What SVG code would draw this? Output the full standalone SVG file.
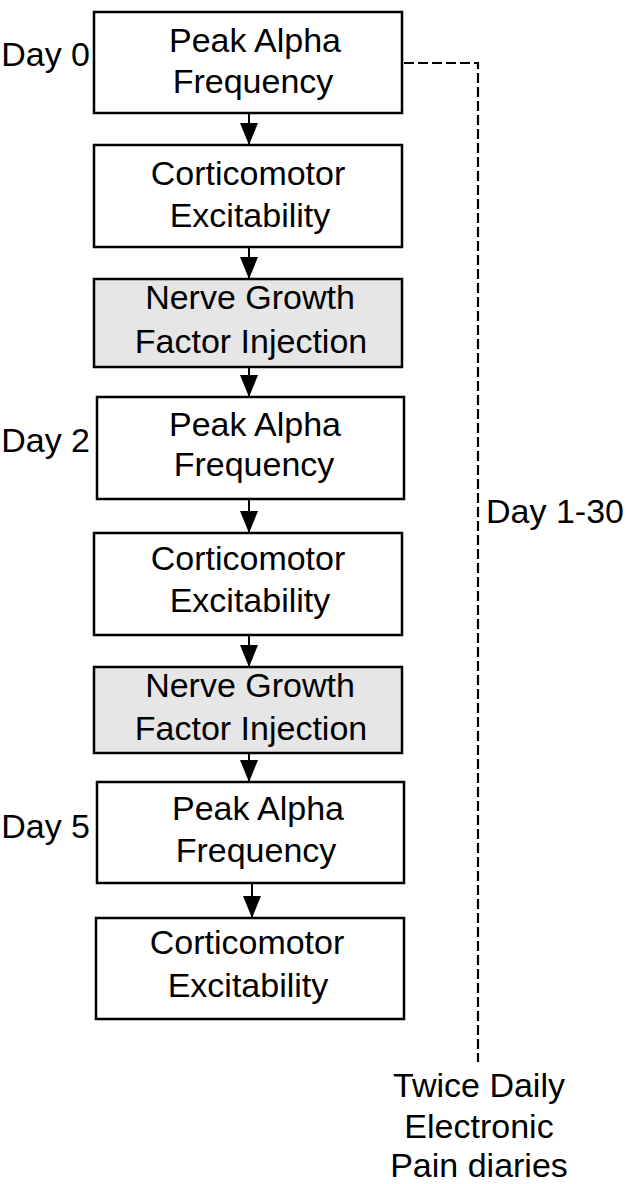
<svg xmlns="http://www.w3.org/2000/svg" width="630" height="1184" viewBox="0 0 630 1184">
<defs>
<style>
.box{fill:#ffffff;stroke:#000;stroke-width:2.5}
.inj{fill:#e6e6e6;stroke:#000;stroke-width:2.5}
text{font-family:"Liberation Sans",Arial,sans-serif;font-size:34px;fill:#000}
.c{text-anchor:middle}
.e{text-anchor:end}
.conn{stroke:#000;stroke-width:2;fill:none}
.dash{stroke:#000;stroke-width:2.2;fill:none;stroke-dasharray:10 4}
</style>
<marker id="ah" markerWidth="22" markerHeight="18" refX="22" refY="9" orient="auto" markerUnits="userSpaceOnUse">
<path d="M0,0 L22,9 L0,18 Z" fill="#000"/>
</marker>
</defs>
<rect width="630" height="1184" fill="#fff"/>
<g id="connectors">
<line class="conn" x1="249" y1="114" x2="249" y2="145" marker-end="url(#ah)"/>
<line class="conn" x1="249" y1="248" x2="249" y2="279" marker-end="url(#ah)"/>
<line class="conn" x1="249" y1="368" x2="249" y2="397" marker-end="url(#ah)"/>
<line class="conn" x1="249" y1="500" x2="249" y2="533" marker-end="url(#ah)"/>
<line class="conn" x1="249" y1="636" x2="249" y2="667" marker-end="url(#ah)"/>
<line class="conn" x1="249" y1="754" x2="249" y2="782" marker-end="url(#ah)"/>
<line class="conn" x1="252" y1="884" x2="252" y2="918" marker-end="url(#ah)"/>
<path class="dash" d="M404,63 H478 V1062"/>
</g>
<g id="n1">
<rect class="box" x="94" y="12" width="308" height="101"/>
<text class="c" x="255" y="52">Peak Alpha</text>
<text class="c" x="253" y="93">Frequency</text>
</g>
<g id="n2">
<rect class="box" x="94" y="145" width="308" height="102"/>
<text class="c" x="248" y="185">Corticomotor</text>
<text class="c" x="250" y="227">Excitability</text>
</g>
<g id="n3">
<rect class="inj" x="94" y="279" width="308" height="88"/>
<text class="c" x="250" y="309">Nerve Growth</text>
<text class="c" x="251" y="353">Factor Injection</text>
</g>
<g id="n4">
<rect class="box" x="97" y="397" width="307" height="102"/>
<text class="c" x="255" y="436">Peak Alpha</text>
<text class="c" x="254" y="476">Frequency</text>
</g>
<g id="n5">
<rect class="box" x="94" y="533" width="308" height="102"/>
<text class="c" x="248" y="570">Corticomotor</text>
<text class="c" x="250" y="612">Excitability</text>
</g>
<g id="n6">
<rect class="inj" x="94" y="667" width="308" height="86"/>
<text class="c" x="250" y="697">Nerve Growth</text>
<text class="c" x="251" y="740">Factor Injection</text>
</g>
<g id="n7">
<rect class="box" x="97" y="782" width="307" height="101"/>
<text class="c" x="258" y="820">Peak Alpha</text>
<text class="c" x="256" y="862">Frequency</text>
</g>
<g id="n8">
<rect class="box" x="96" y="918" width="308" height="101"/>
<text class="c" x="247" y="954">Corticomotor</text>
<text class="c" x="248" y="997">Excitability</text>
</g>
<g id="labels">
<text class="e" x="90" y="66">Day 0</text>
<text class="e" x="90" y="452">Day 2</text>
<text class="e" x="90" y="838">Day 5</text>
<text x="486" y="523">Day 1-30</text>
<text class="c" x="479" y="1097">Twice Daily</text>
<text class="c" x="479" y="1138">Electronic</text>
<text class="c" x="479" y="1177">Pain diaries</text>
</g>
</svg>
